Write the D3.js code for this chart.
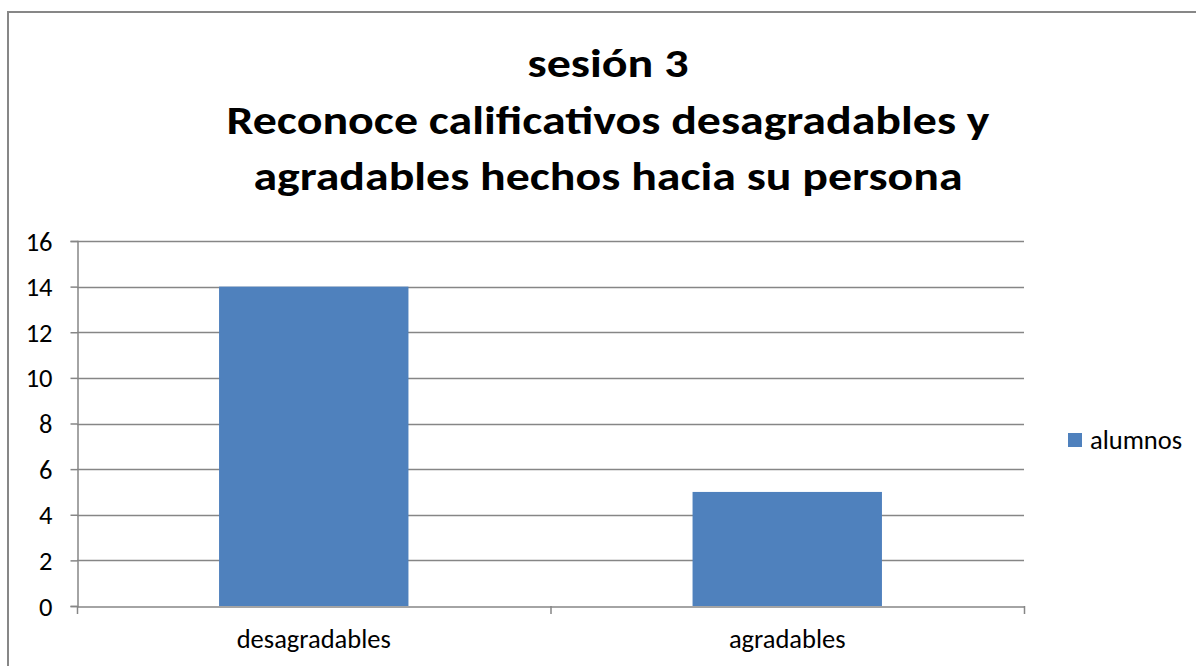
<!DOCTYPE html>
<html>
<head>
<meta charset="utf-8">
<script src="https://cdn.jsdelivr.net/npm/d3@7"></script>
<style>
  html, body { margin: 0; padding: 0; background: #fff; }
  svg { display: block; }
</style>
</head>
<body>
<svg id="chart" width="1196" height="666"></svg>
<script>
const titleLines = ["sesión 3", "Reconoce calificativos desagradables y", "agradables hechos hacia su persona"];
const categories = ["desagradables", "agradables"];
const seriesName = "alumnos";
const values = [14, 5];
const yTicks = [0, 2, 4, 6, 8, 10, 12, 14, 16];

const svg = d3.select("#chart");
const font = "Carlito, Calibri, 'Open Sans', 'Liberation Sans', sans-serif";
const labelSize = 26.5;

// outer frame
svg.append("rect").attr("x", 8).attr("y", 12).attr("width", 1300).attr("height", 800)
  .attr("fill", "none").attr("stroke", "#878787").attr("stroke-width", 2);

// title
const titleBase = [77, 134, 190];
const titleWidths = [161, 763, 709];
titleLines.forEach((t, i) => {
  svg.append("text").attr("x", 608).attr("y", titleBase[i])
    .attr("text-anchor", "middle")
    .attr("font-family", font).attr("font-weight", "bold").attr("font-size", 41)
    .attr("fill", "#000")
    .attr("textLength", titleWidths[i]).attr("lengthAdjust", "spacingAndGlyphs")
    .text(t);
});

const x0 = 77, x1 = 1024, yBottom = 606, yTop = 241;
const x = d3.scaleBand().domain(categories).range([x0, x1]).paddingInner(0).paddingOuter(0);
const y = d3.scaleLinear().domain([0, 16]).range([yBottom, yTop]);

// gridlines
svg.append("g").selectAll("line").data(yTicks.filter(d => d > 0)).join("line")
  .attr("x1", x0).attr("x2", x1)
  .attr("y1", d => Math.round(y(d)) + 0.5).attr("y2", d => Math.round(y(d)) + 0.5)
  .attr("stroke", "#868686").attr("stroke-width", 1.5);

// bars
const barW = x.bandwidth() * 0.4;
svg.append("g").selectAll("rect").data(values).join("rect")
  .attr("x", (d, i) => x(categories[i]) + (x.bandwidth() - barW) / 2)
  .attr("width", barW)
  .attr("y", d => y(d))
  .attr("height", d => y(0) - y(d))
  .attr("fill", "#4F81BD");

// y axis
const yAxis = d3.axisLeft(y).tickValues(yTicks).tickSize(7).tickPadding(18);
const gy = svg.append("g").attr("transform", `translate(${x0 + 0.5},0)`).call(yAxis);
gy.attr("font-size", null).attr("font-family", null);
gy.select(".domain").attr("stroke", "#868686").attr("stroke-width", 1.5);
gy.selectAll(".tick line").attr("stroke", "#868686").attr("stroke-width", 1.5);
gy.selectAll(".tick text").attr("font-family", font).attr("font-size", labelSize).attr("fill", "#000")
  .attr("dy", "0.34em");

// x axis
const xAxis = d3.axisBottom(x).tickSize(0).tickPadding(0);
const gx = svg.append("g").attr("transform", `translate(0,${yBottom + 0.5})`).call(xAxis);
gx.attr("font-size", null).attr("font-family", null);
gx.select(".domain").attr("stroke", "#868686").attr("stroke-width", 1.5);
gx.selectAll(".tick text").attr("font-family", font).attr("font-size", labelSize).attr("fill", "#000")
  .attr("dy", 0).attr("y", 41);
// category boundary ticks
const bounds = [x0, ...categories.map(c => x(c) + x.bandwidth())];
svg.append("g").selectAll("line").data(bounds).join("line")
  .attr("x1", d => d + 0.5).attr("x2", d => d + 0.5)
  .attr("y1", yBottom).attr("y2", yBottom + 8)
  .attr("stroke", "#868686").attr("stroke-width", 1.5);

// legend
const lg = svg.append("g").attr("transform", "translate(1068,433)");
lg.append("rect").attr("width", 14).attr("height", 14).attr("fill", "#4F81BD");
lg.append("text").attr("x", 22).attr("y", 16).attr("font-family", font).attr("font-size", labelSize)
  .attr("fill", "#000").text(seriesName);
</script>
</body>
</html>
